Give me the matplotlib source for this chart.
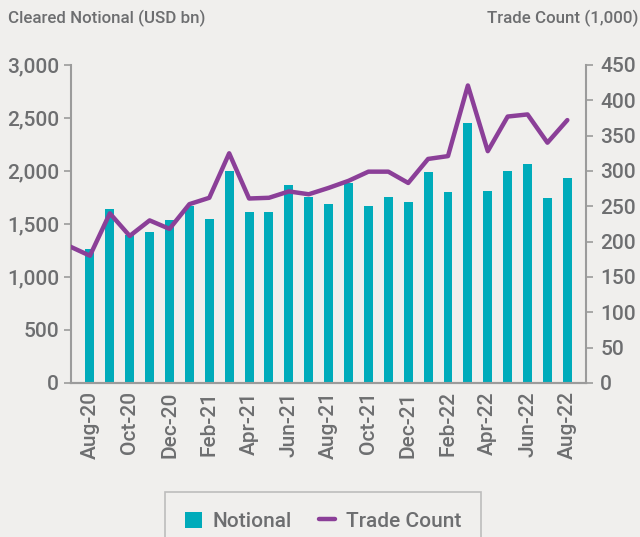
import matplotlib.pyplot as plt
import numpy as np

# Data
months = ['Aug-20', 'Sep-20', 'Oct-20', 'Nov-20', 'Dec-20', 'Jan-21', 'Feb-21', 'Mar-21',
          'Apr-21', 'May-21', 'Jun-21', 'Jul-21', 'Aug-21', 'Sep-21', 'Oct-21', 'Nov-21',
          'Dec-21', 'Jan-22', 'Feb-22', 'Mar-22', 'Apr-22', 'May-22', 'Jun-22', 'Jul-22',
          'Aug-22']
notional = [1265, 1640, 1400, 1425, 1535, 1670, 1545, 2000, 1610, 1610, 1870, 1750, 1685,
            1890, 1670, 1755, 1705, 1990, 1800, 2455, 1808, 2003, 2066, 1742, 1937]
# trade count includes Jul-20 as the first point
trade_months = ['Jul-20'] + months
trade_count = [193, 180, 240, 208, 230, 218, 253, 262, 325, 261, 262, 271, 267, 276, 286,
               299, 299, 283, 317, 321, 421, 328, 377, 380, 340, 372]

bg = '#f0efed'
teal = '#00abba'
purple = '#8b3f98'
txt = '#6d6e70'
spine_c = '#9b9b9b'

plt.rcParams['font.family'] = ['Roboto', 'DejaVu Sans']
plt.rcParams['font.weight'] = 500

fig = plt.figure(figsize=(6.4, 5.37), dpi=100, facecolor=bg)
ax = fig.add_axes([0.111, 0.287, 0.805, 0.592], facecolor=bg)
ax2 = ax.twinx()

x = np.arange(len(months))
ax.bar(x, notional, width=0.45, color=teal, label='Notional', zorder=2)
xt = np.arange(-1, len(months))
ax2.plot(xt, trade_count, color=purple, lw=3.2, solid_capstyle='round',
         solid_joinstyle='round', label='Trade Count', zorder=3)

ax.set_xlim(-0.95, len(months) - 0.05)
ax.set_ylim(0, 3000)
ax2.set_ylim(0, 450)
ax.set_yticks(np.arange(0, 3001, 500))
ax.set_yticklabels([f'{v:,}' for v in range(0, 3001, 500)])
ax2.set_yticks(np.arange(0, 451, 50))
ax.set_xticks(x[::2])
ax.set_xticklabels(months[::2], rotation=90)

for a in (ax, ax2):
    for s in a.spines.values():
        s.set_color(spine_c)
        s.set_linewidth(1.5)
    a.spines['top'].set_visible(False)
    a.tick_params(colors=txt, labelsize=15, width=1.2, length=5, color=spine_c)
ax.tick_params(axis='x', length=0, pad=6)
ax2.tick_params(axis='y', pad=5)
ax2.spines['left'].set_visible(False)
ax.spines['right'].set_visible(False)
ax2.spines['right'].set_visible(True)

fig.text(0.012, 0.965, 'Cleared Notional (USD bn)', color=txt, fontsize=12.2,
         va='center', ha='left')
fig.text(0.997, 0.965, 'Trade Count (1,000)', color=txt, fontsize=12.2,
         va='center', ha='right')

h1, l1 = ax.get_legend_handles_labels()
h2, l2 = ax2.get_legend_handles_labels()
leg = fig.legend(h1 + h2, l1 + l2, loc='upper center', bbox_to_anchor=(0.505, 0.084),
                 ncol=2, frameon=True, fancybox=False, fontsize=15, labelcolor=txt,
                 handlelength=0.8, handleheight=0.8, columnspacing=1.3,
                 borderpad=0.95, borderaxespad=0, handletextpad=0.5)
leg.get_frame().set_edgecolor('#b0b0b0')
leg.get_frame().set_facecolor(bg)
leg.get_frame().set_linewidth(1.2)

fig.savefig('out.png', dpi=100, facecolor=bg)
